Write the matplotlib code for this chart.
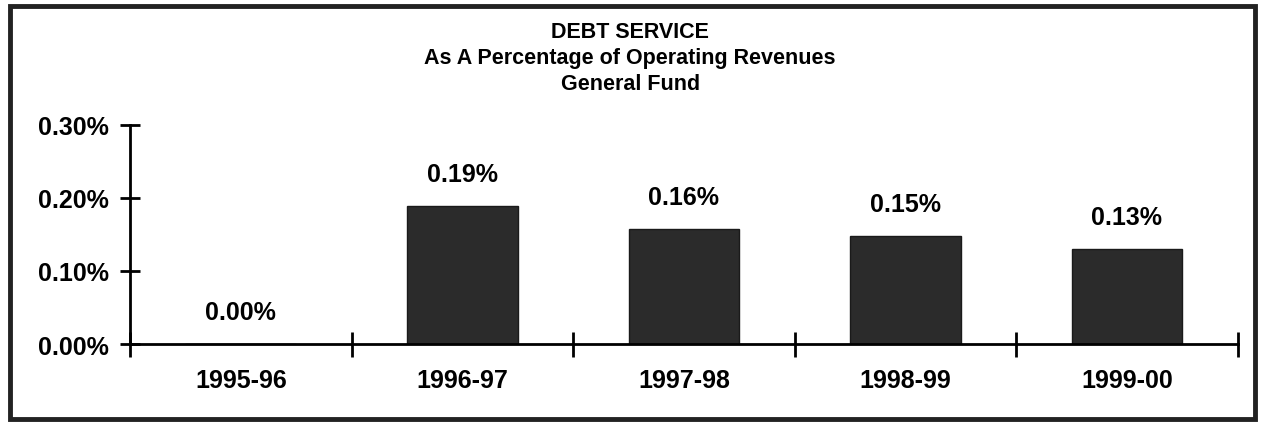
import matplotlib.pyplot as plt
from matplotlib.patches import Rectangle
from matplotlib.ticker import FixedLocator, NullFormatter

plt.rcParams['font.family'] = ['Liberation Sans', 'DejaVu Sans']
plt.rcParams['font.weight'] = 'bold'

years = ['1995-96', '1996-97', '1997-98', '1998-99', '1999-00']
debt_pct = [0.0, 0.189, 0.157, 0.148, 0.130]
y_ticks = [0.0, 0.10, 0.20, 0.30]
title_lines = ['DEBT SERVICE', 'As A Percentage of Operating Revenues', 'General Fund']

fig = plt.figure(figsize=(12.63, 4.27), dpi=100)
ax = fig.add_axes([0.103, 0.192, 0.877, 0.513])

x = range(len(years))
ax.bar(x, debt_pct, width=0.5, color='#2b2b2b', edgecolor='#1a1a1a', lw=1, zorder=2)
for i, v in enumerate(debt_pct):
    ax.annotate(f'{v:.2f}%', (i, v), xytext=(0, 23), textcoords='offset points',
                ha='center', va='center', fontsize=18, fontweight='bold')

ax.set_xlim(-0.5, len(years) - 0.5)
ax.set_ylim(0, 0.30)
ax.set_yticks(y_ticks)
ax.set_yticklabels([f'{t:.2f}%' for t in y_ticks])

# category labels in the middle, ticks on the boundaries
ax.set_xticks(list(x))
ax.set_xticklabels(years)
ax.tick_params(axis='x', which='major', length=0, pad=17, labelsize=18)
ax.xaxis.set_minor_locator(FixedLocator([i + 0.5 for i in range(-1, len(years))]))
ax.xaxis.set_minor_formatter(NullFormatter())
ax.tick_params(axis='x', which='minor', direction='inout', length=18, width=2)
ax.tick_params(axis='y', direction='inout', length=14, width=2, pad=8, labelsize=18)

for s in ['top', 'right']:
    ax.spines[s].set_visible(False)
for s in ['left', 'bottom']:
    ax.spines[s].set_linewidth(2)

for k, line in enumerate(title_lines):
    fig.text(0.499, 0.923 - k * 0.061, line, ha='center', va='center',
             fontsize=15.5, fontweight='bold')

fig.patches.append(Rectangle((0.008, 0.017), 0.986, 0.966, transform=fig.transFigure,
                             fill=False, lw=3.5, edgecolor='#222222'))

fig.savefig('out.png', dpi=100)
